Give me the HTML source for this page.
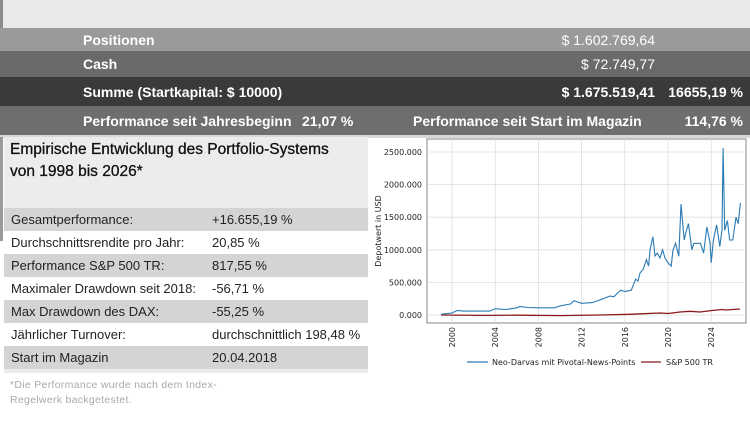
<!DOCTYPE html>
<html><head><meta charset="utf-8"><style>
*{margin:0;padding:0;box-sizing:border-box}
body{width:750px;height:421px;background:#fff;position:relative;overflow:hidden;font-family:"Liberation Sans",sans-serif}
.band{position:absolute;left:0;width:750px;color:#fff;font-family:"Liberation Sans",sans-serif;font-size:14px}
.band span{position:absolute;top:50%;transform:translateY(-50%);white-space:nowrap}
.b{font-weight:bold}
.tbl{position:absolute;left:4px;width:364px;font-size:13px;color:#222}
.row{position:absolute;left:0;width:364px;height:23px;line-height:23px}
.row span{position:absolute}
</style></head><body>
<div style="position:absolute;left:0;top:0;width:750px;height:28px;background:#e8e9e8"></div>
<div style="position:absolute;left:0;top:0;width:3px;height:135px;background:#8a8a8a"></div>
<div class="band" style="top:28px;height:23px;background:#9a9a9a"><span class="b" style="left:83px">Positionen</span><span style="right:95px">$ 1.602.769,64</span></div>
<div class="band" style="top:51px;height:26px;background:#6a6a6a"><span class="b" style="left:83px">Cash</span><span style="right:95px">$ 72.749,77</span></div>
<div class="band" style="top:77px;height:29px;background:#3a3a3a"><span class="b" style="left:83px">Summe (Startkapital: $ 10000)</span><span class="b" style="right:95px">$ 1.675.519,41</span><span class="b" style="right:7px">16655,19 %</span></div>
<div class="band" style="top:106px;height:29px;background:#6e6e6e"><span class="b" style="left:83px">Performance seit Jahresbeginn</span><span class="b" style="left:302px">21,07 %</span><span class="b" style="left:413px">Performance seit Start im Magazin</span><span class="b" style="right:7px">114,76 %</span></div>
<div style="position:absolute;left:0;top:135px;width:750px;height:3px;background:#d8d8d8"></div>
<div style="position:absolute;left:4px;top:137px;width:364px;height:236px;background:#ececec"></div>
<div style="position:absolute;left:0;top:137px;width:3px;height:104px;background:#9a9a9a"></div>
<div style="position:absolute;left:10px;top:139px;font-size:15.5px;line-height:22px;color:#111;-webkit-text-stroke:0.3px #111">Empirische Entwicklung des Portfolio-Systems<br>von 1998 bis 2026*</div>
<div class="tbl" style="top:208px">
<div class="row" style="top:0;background:#d4d4d4"><span style="left:7px">Gesamtperformance:</span><span style="left:208px">+16.655,19 %</span></div>
<div class="row" style="top:23px;background:#fff"><span style="left:7px">Durchschnittsrendite pro Jahr:</span><span style="left:208px">20,85 %</span></div>
<div class="row" style="top:46px;background:#d4d4d4"><span style="left:7px">Performance S&amp;P 500 TR:</span><span style="left:208px">817,55 %</span></div>
<div class="row" style="top:69px;background:#fff"><span style="left:7px">Maximaler Drawdown seit 2018:</span><span style="left:208px">-56,71 %</span></div>
<div class="row" style="top:92px;background:#d4d4d4"><span style="left:7px">Max Drawdown des DAX:</span><span style="left:208px">-55,25 %</span></div>
<div class="row" style="top:115px;background:#fff"><span style="left:7px">Jährlicher Turnover:</span><span style="left:208px">durchschnittlich 198,48 %</span></div>
<div class="row" style="top:138px;background:#d4d4d4"><span style="left:7px">Start im Magazin</span><span style="left:208px">20.04.2018</span></div>
</div>
<div style="position:absolute;left:10px;top:378px;font-size:10.5px;line-height:15px;color:#aaa;letter-spacing:0.3px">*Die Performance wurde nach dem Index-<br>Regelwerk backgetestet.</div>
<svg style="position:absolute;left:0;top:0" width="750" height="421" font-family="DejaVu Sans, sans-serif">
<rect x="427" y="139" width="319" height="184" fill="#fff" stroke="#666" stroke-width="0.8"/>
<g stroke="#ddd" stroke-width="0.8">
<line x1="452" y1="139" x2="452" y2="323"/><line x1="495.2" y1="139" x2="495.2" y2="323"/><line x1="538.4" y1="139" x2="538.4" y2="323"/><line x1="581.6" y1="139" x2="581.6" y2="323"/><line x1="624.8" y1="139" x2="624.8" y2="323"/><line x1="668" y1="139" x2="668" y2="323"/><line x1="711.2" y1="139" x2="711.2" y2="323"/>
<line x1="427" y1="315" x2="746" y2="315"/><line x1="427" y1="282.4" x2="746" y2="282.4"/><line x1="427" y1="249.8" x2="746" y2="249.8"/><line x1="427" y1="217.2" x2="746" y2="217.2"/><line x1="427" y1="184.6" x2="746" y2="184.6"/><line x1="427" y1="152" x2="746" y2="152"/>
</g>
<g font-size="8" fill="#222" text-anchor="end">
<text x="422" y="318">0.000</text><text x="422" y="285.4">500.000</text><text x="422" y="252.8">1000.000</text><text x="422" y="220.2">1500.000</text><text x="422" y="187.6">2000.000</text><text x="422" y="155">2500.000</text>
</g>
<g font-size="8" fill="#222" text-anchor="end">
<text transform="translate(455,327) rotate(-90)">2000</text><text transform="translate(498.2,327) rotate(-90)">2004</text><text transform="translate(541.4,327) rotate(-90)">2008</text><text transform="translate(584.6,327) rotate(-90)">2012</text><text transform="translate(627.8,327) rotate(-90)">2016</text><text transform="translate(671,327) rotate(-90)">2020</text><text transform="translate(714.2,327) rotate(-90)">2024</text>
</g>
<text transform="translate(381,231) rotate(-90)" font-size="8" fill="#222" text-anchor="middle">Depotwert in USD</text>
<polyline fill="none" stroke="#8b1a1a" stroke-width="1.3" points="441,315 480,315.4 520,315.2 560,315.6 600,315 630,314.3 660,313 668,313.5 680,312 690,311.3 700,312 712,310.5 722,309.5 726,310 740,309"/>
<polyline fill="none" stroke="#2a7ab4" stroke-width="1.1" points="441.2,314.3 452,313 457.4,310.4 462.8,311.1 489.8,311.1 495.2,308.8 506,309.5 516.8,307.8 520,306.5 527.6,307.5 538.4,307.8 554.6,307.8 560,305.9 570.8,303.9 574,300.7 579.4,302.6 581.6,303.3 592.4,302.6 603.2,298.7 609.7,296.1 614,296.7 620.5,290.2 624.8,291.5 631.3,290.2 635.6,279.1 638,281 640,273 643.2,269.4 646.4,259.6 648.6,266.1 650,250 652.9,236.8 655,256 657.2,253.1 660,258 662.6,249.8 665,258 668,262.8 671.2,266.1 673,250 675.6,243.3 678.8,256.3 681,204.2 684.2,240 686,232 688.5,223.7 691.8,249.8 693.9,243.3 700.4,243.3 703.6,253.1 706.9,227 710.1,243.3 711.2,262.8 713.4,240 716.6,225 719.8,246.5 722,230.2 723.1,148.1 724.7,230.2 727.4,220.5 729.6,240 732.8,240 736,217.2 738.2,223.7 740.4,202.9"/>
<line x1="467" y1="362" x2="488" y2="362" stroke="#2a7ab4" stroke-width="1.3"/>
<text x="492" y="365" font-size="8" fill="#222">Neo-Darvas mit Pivotal-News-Points</text>
<line x1="641" y1="362" x2="661" y2="362" stroke="#8b1a1a" stroke-width="1.3"/>
<text x="666" y="365" font-size="8" fill="#222">S&amp;P 500 TR</text>
</svg>
</body></html>
